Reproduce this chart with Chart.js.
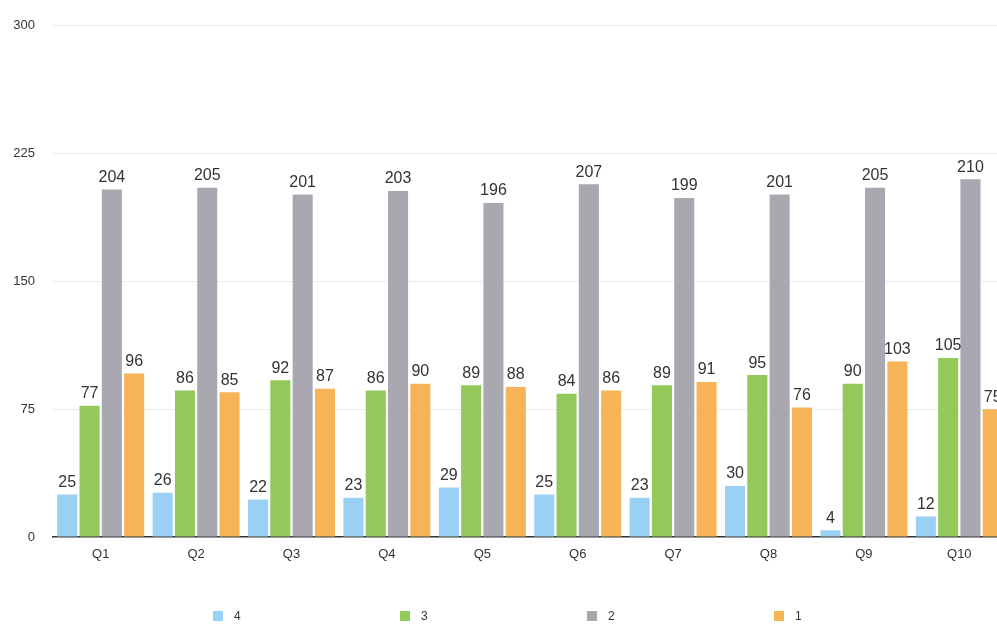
<!DOCTYPE html>
<html>
<head>
<meta charset="utf-8">
<script src="https://cdn.jsdelivr.net/npm/chart.js@4/dist/chart.umd.min.js"></script>
<style>
html,body{margin:0;padding:0;background:#fff;overflow:hidden;width:997px;height:625px;}
canvas{display:block;}
</style>
</head>
<body>
<canvas id="c" width="1010" height="625"></canvas>
<script>
const categories = ['Q1','Q2','Q3','Q4','Q5','Q6','Q7','Q8','Q9','Q10'];
const seriesNames = ['4','3','2','1'];
const series4 = [25,26,22,23,29,25,23,30,4,12];
const series3 = [77,86,92,86,89,84,89,95,90,105];
const series2 = [204,205,201,203,196,207,199,201,205,210];
const series1 = [96,85,87,90,88,86,91,76,103,75];
const yTicks = [0,75,150,225,300];
const colors = ['#9bd0f5','#93c85a','#a9a7b0','#f6b358'];

const FONT = "'Liberation Sans', Arial, Helvetica, sans-serif";

const dataLabels = {
  id:'dataLabels',
  afterDatasetsDraw(chart){
    const ctx = chart.ctx;
    ctx.save();
    ctx.font = '16px ' + FONT;
    ctx.fillStyle = '#333';
    ctx.textAlign = 'center';
    ctx.textBaseline = 'bottom';
    chart.data.datasets.forEach((ds,i)=>{
      const meta = chart.getDatasetMeta(i);
      meta.data.forEach((bar,j)=>{
        ctx.fillText(String(ds.data[j]), bar.x, bar.y - 4);
      });
    });
    ctx.restore();
  }
};

const legendXs = [218,405,592,779];
const customLegend = {
  id:'customLegend',
  afterDraw(chart){
    const ctx = chart.ctx;
    ctx.save();
    ctx.font = '12px ' + FONT;
    ctx.textBaseline = 'middle';
    ctx.textAlign = 'left';
    chart.data.datasets.forEach((ds,i)=>{
      const x = legendXs[i];
      ctx.fillStyle = ds.backgroundColor;
      ctx.fillRect(x-5, 611, 10, 10);
      ctx.fillStyle = '#333';
      ctx.fillText(ds.label, x+16, 617);
    });
    ctx.restore();
  }
};

const seriesData = [series4, series3, series2, series1];
new Chart(document.getElementById('c'), {
  type:'bar',
  data:{
    labels: categories,
    datasets: seriesNames.map((n,i)=>({
      label:n,
      data:seriesData[i],
      backgroundColor:colors[i],
      borderWidth:0,
      barPercentage:0.9,
      categoryPercentage:0.935
    }))
  },
  options:{
    responsive:false,
    animation:false,
    layout:{padding:{top:23,right:3,left:0,bottom:0}},
    plugins:{legend:{display:false},tooltip:{enabled:false}},
    scales:{
      x:{
        grid:{display:false},
        border:{display:true,color:'#333',width:1.5},
        ticks:{color:'#333',font:{family:FONT,size:13},padding:2},
        afterFit(a){a.height = 88;}
      },
      y:{
        min:0,max:300,
        afterBuildTicks(a){a.ticks = yTicks.map(v=>({value:v}));},
        grid:{color:(c)=>c.tick && c.tick.value===0 ? 'rgba(0,0,0,0)' : '#ececec', drawTicks:false, lineWidth:1},
        border:{display:false},
        ticks:{color:'#333',font:{family:FONT,size:13},padding:18},
        afterFit(a){a.width = 53;}
      }
    }
  },
  plugins:[dataLabels, customLegend]
});
</script>
</body>
</html>
